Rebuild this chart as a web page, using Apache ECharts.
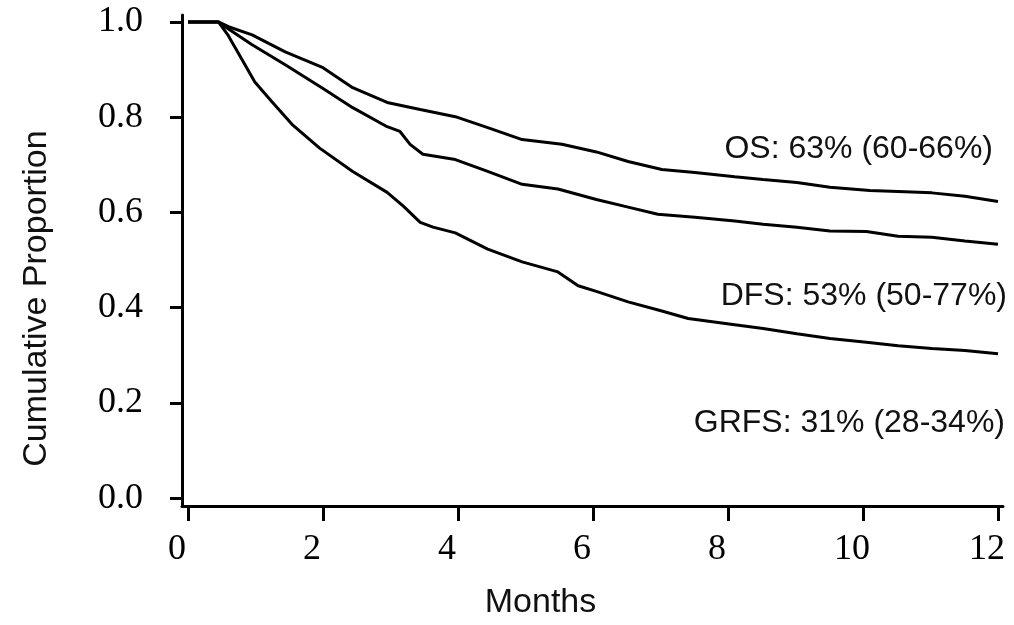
<!DOCTYPE html>
<html>
<head>
<meta charset="utf-8">
<script src="https://cdn.jsdelivr.net/npm/echarts@6/dist/echarts.min.js"></script>
<style>
  html, body { margin: 0; padding: 0; background: #fff; }
  #charts { width: 1014px; height: 625px; }
</style>
</head>
<body>
<div id="charts"></div>
<script>
// 数据 (months, proportion)
let osData = [
    [0, 1.0], [0.45, 1.0], [0.6, 0.99], [0.95, 0.973], [1.44, 0.937], [2.0, 0.904],
    [2.44, 0.862], [2.95, 0.831], [3.44, 0.816], [3.96, 0.801], [4.44, 0.778],
    [4.95, 0.753], [5.54, 0.743], [6.05, 0.727], [6.52, 0.707], [7.02, 0.69],
    [7.51, 0.684], [8.1, 0.675], [8.52, 0.669], [9.02, 0.663], [9.51, 0.653],
    [10.1, 0.646], [10.52, 0.644], [11.02, 0.641], [11.51, 0.634], [12, 0.623]
];
let dfsData = [
    [0, 1.0], [0.45, 1.0], [0.6, 0.985], [0.95, 0.952], [1.44, 0.91], [2.0, 0.86],
    [2.44, 0.82], [2.95, 0.78], [3.14, 0.77], [3.29, 0.743], [3.48, 0.722],
    [3.96, 0.711], [4.44, 0.686], [4.95, 0.659], [5.48, 0.649], [6.05, 0.627],
    [6.52, 0.611], [6.96, 0.596], [7.51, 0.59], [8.1, 0.582], [8.52, 0.575],
    [9.02, 0.569], [9.51, 0.561], [10.05, 0.56], [10.52, 0.55], [11.02, 0.548],
    [11.51, 0.54], [12, 0.533]
];
let grfsData = [
    [0, 1.0], [0.45, 1.0], [0.59, 0.973], [0.65, 0.958], [0.7, 0.946], [0.99, 0.874],
    [1.24, 0.833], [1.54, 0.785], [1.95, 0.735], [2.44, 0.686], [2.95, 0.642],
    [3.19, 0.613], [3.44, 0.579], [3.63, 0.569], [3.96, 0.557], [4.44, 0.523],
    [4.95, 0.496], [5.48, 0.475], [5.78, 0.446], [6.05, 0.434], [6.52, 0.412],
    [7.02, 0.393], [7.41, 0.377], [8.1, 0.364], [8.52, 0.356], [9.02, 0.345],
    [9.51, 0.335], [10.05, 0.327], [10.52, 0.32], [11.02, 0.314], [11.51, 0.31],
    [12, 0.303]
];
let xTicks = [0, 2, 4, 6, 8, 10, 12];
let yTicks = [0, 0.2, 0.4, 0.6, 0.8, 1.0];
let labels = ["OS: 63% (60-66%)", "DFS: 53% (50-77%)", "GRFS: 31% (28-34%)"];

let serif = "'Liberation Serif', 'Times New Roman', serif";
let sans = "'Liberation Sans', Arial, sans-serif";

function curve (name, data) {
    return {
        name: name,
        type: "line",
        data: data,
        symbol: "none",
        lineStyle: { color: "#000", width: 3 },
        silent: true
    };
}

function note (text, right, y) {
    return {
        type: "text",
        right: right,
        top: y,
        style: { text: text, font: "32px " + sans, fill: "#111", textVerticalAlign: "middle" }
    };
}

let myChart = echarts.init(document.getElementById("charts"));
myChart.setOption({
    animation: false,
    grid: { left: 182, right: 11, top: 15, bottom: 117 },
    xAxis: {
        type: "value",
        min: -0.089,
        max: 12.074,
        name: "Months",
        nameLocation: "middle",
        nameGap: 80,
        // 标题略偏左
        nameTextStyle: { fontFamily: sans, fontSize: 34, color: "#111", padding: [0, 104, 0, 0] },
        splitLine: { show: false },
        axisLine: { onZero: false, lineStyle: { color: "#000", width: 3 } },
        axisTick: { customValues: xTicks, length: 15, lineStyle: { color: "#000", width: 3 } },
        axisLabel: {
            customValues: xTicks,
            margin: 26,
            padding: [0, 22, 0, 0],
            fontFamily: serif,
            fontSize: 36,
            color: "#000"
        }
    },
    yAxis: {
        type: "value",
        min: -0.0167,
        max: 1.0146,
        name: "Cumulative Proportion",
        nameLocation: "middle",
        nameGap: 128,
        nameTextStyle: { fontFamily: sans, fontSize: 34, color: "#111", padding: [0, 76, 0, 0] },
        splitLine: { show: false },
        axisLine: { onZero: false, lineStyle: { color: "#000", width: 3 } },
        axisTick: { customValues: yTicks, length: 12, lineStyle: { color: "#000", width: 3 } },
        axisLabel: {
            customValues: yTicks,
            margin: 39,
            padding: [5, 0, 0, 0],
            fontFamily: serif,
            fontSize: 36,
            color: "#000",
            formatter: v => v.toFixed(1)
        }
    },
    series: [
        curve("OS", osData),
        curve("DFS", dfsData),
        curve("GRFS", grfsData)
    ],
    graphic: [
        note(labels[0], 21, 133),
        note(labels[1], 7, 280),
        note(labels[2], 9, 407)
    ]
});
</script>
</body>
</html>
